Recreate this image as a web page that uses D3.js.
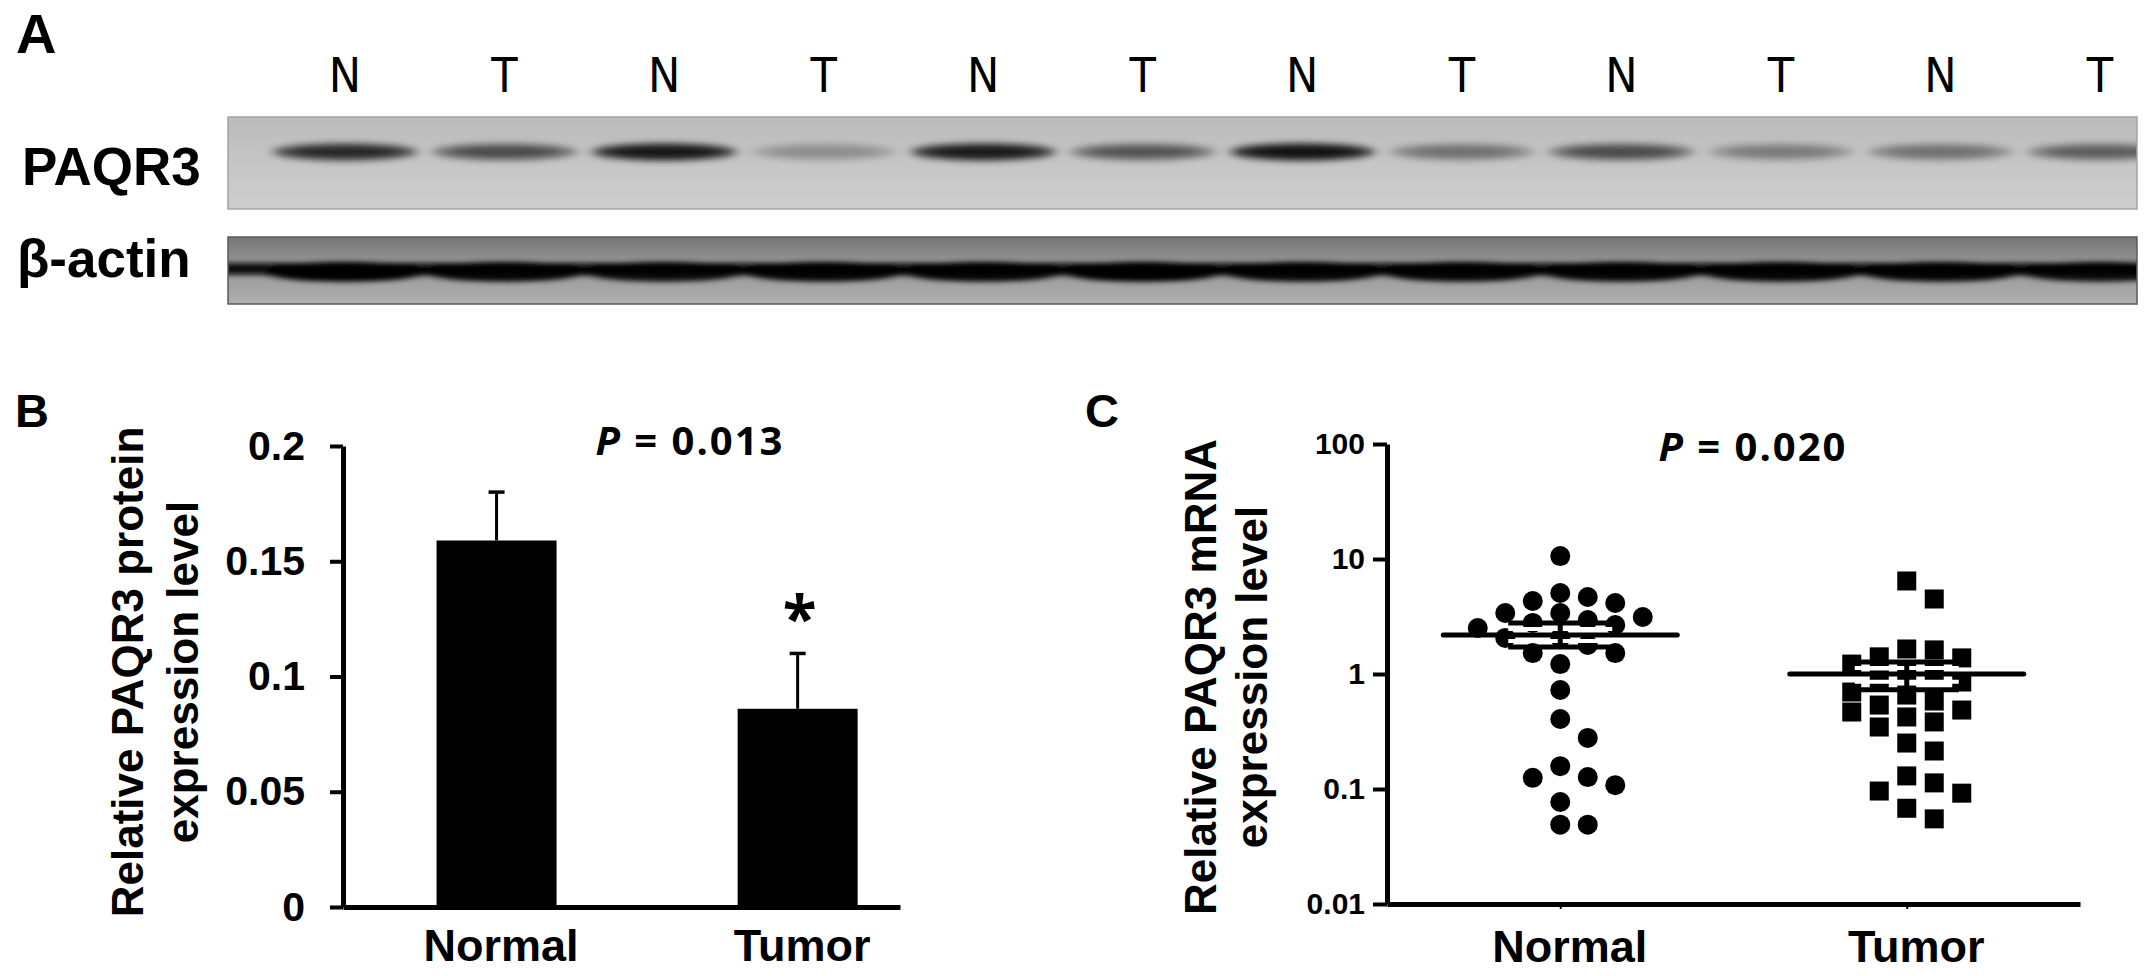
<!DOCTYPE html>
<html><head><meta charset="utf-8">
<script src="https://cdn.jsdelivr.net/npm/d3@7"></script>
<style>
html,body{margin:0;padding:0;background:#fff;}
svg{display:block;}
</style></head><body>
<svg id="fig" width="2150" height="976"></svg>
<script>
// ---------------- DATA ----------------
// Panel A: western blot (12 lanes)
const laneLabels = ["N","T","N","T","N","T","N","T","N","T","N","T"];
const paqr3Intensity = [0.8,0.55,0.95,0.22,0.92,0.5,1.0,0.35,0.55,0.3,0.35,0.45];
const actinIntensity = [1.0,0.95,0.9,0.95,0.95,1.0,0.95,0.95,0.95,0.95,0.95,0.9];
const blotRows = ["PAQR3","β-actin"];
// Panel B: protein bar chart
const groups = ["Normal","Tumor"];
const proteinMean = [0.159,0.086];
const proteinSE = [0.021,0.024];
const proteinTicks = [0,0.05,0.1,0.15,0.2];
const proteinTickLabels = ["0","0.05","0.1","0.15","0.2"];
const pValueB = "0.013";
// Panel C: mRNA scatter (log scale)
const mrnaNormal = [10.6,5.06,4.67,4.31,4.14,3.39,3.39,3.13,2.95,2.78,2.67,2.51,2.06,2.06,1.79,1.52,1.52,1.22,0.726,0.406,0.278,0.158,0.127,0.125,0.108,0.077,0.049,0.049];
const mrnaTumor = [6.44,4.49,1.65,1.62,1.41,1.38,1.22,1.04,1.02,0.887,0.852,0.697,0.656,0.582,0.537,0.486,0.467,0.423,0.383,0.346,0.251,0.214,0.130,0.113,0.096,0.092,0.068,0.055];
const mrnaMean = [2.18,1.0];
const mrnaSemUpper = [2.78,1.27];
const mrnaSemLower = [1.72,0.73];
const mrnaTicks = [0.01,0.1,1,10,100];
const mrnaTickLabels = ["0.01","0.1","1","10","100"];
const pValueC = "0.020";

// ---------------- SETUP ----------------
const svg = d3.select("#fig");
const SANS = "'Liberation Sans', Arial, sans-serif";
const NARROW = "'Liberation Sans Narrow', 'DejaVu Sans Condensed', 'Liberation Sans', sans-serif";
const PFONT = "'Open Sans', 'Liberation Sans', sans-serif";
const defs = svg.append("defs");
defs.append("filter").attr("id","blurBand").attr("x","-30%").attr("y","-100%").attr("width","160%").attr("height","300%")
  .append("feGaussianBlur").attr("stdDeviation","6 3");
defs.append("filter").attr("id","blurActin").attr("x","-30%").attr("y","-100%").attr("width","160%").attr("height","300%")
  .append("feGaussianBlur").attr("stdDeviation","7 2.5");
const g1 = defs.append("linearGradient").attr("id","memGrad").attr("x1",0).attr("y1",0).attr("x2",0).attr("y2",1);
g1.append("stop").attr("offset","0").attr("stop-color","#bababa");
g1.append("stop").attr("offset","0.45").attr("stop-color","#c5c5c5");
g1.append("stop").attr("offset","1").attr("stop-color","#cecece");
const g2 = defs.append("linearGradient").attr("id","actGrad").attr("x1",0).attr("y1",0).attr("x2",0).attr("y2",1);
g2.append("stop").attr("offset","0").attr("stop-color","#767676");
g2.append("stop").attr("offset","0.3").attr("stop-color","#8e8e8e");
g2.append("stop").attr("offset","0.7").attr("stop-color","#a2a2a2");
g2.append("stop").attr("offset","1").attr("stop-color","#b0b0b0");

// blot layout (pixels)
const blot = { x0: 228, x1: 2137 };
const rowBox = { "PAQR3": [117, 209], "β-actin": [237, 304] };
blotRows.forEach((r,i)=>{
  defs.append("clipPath").attr("id","clip"+i).append("rect")
    .attr("x",blot.x0).attr("y",rowBox[r][0]).attr("width",blot.x1-blot.x0).attr("height",rowBox[r][1]-rowBox[r][0]);
});

function panelLetter(t, x, y, size){
  svg.append("text").attr("x",x).attr("y",y).attr("font-family",SANS).attr("font-weight","bold")
    .attr("font-size",size).text(t);
}

// ---------------- PANEL A ----------------
panelLetter("A", 16, 53, 56);
const xLane = d3.scalePoint().domain(d3.range(laneLabels.length)).range([345, 2100]);
svg.append("g").selectAll("text").data(laneLabels).join("text")
  .attr("x",(d,i)=>xLane(i)).attr("y",92).attr("text-anchor","middle")
  .attr("font-family",NARROW).attr("font-size",48).text(d=>d);

// PAQR3 membrane
const [pT, pB0] = rowBox["PAQR3"];
svg.append("rect").attr("x",blot.x0).attr("y",pT).attr("width",blot.x1-blot.x0).attr("height",pB0-pT)
  .attr("fill","url(#memGrad)");
const opP = d3.scaleLinear().domain([0,1]).range([0,0.95]);
const gP = svg.append("g").attr("clip-path","url(#clip0)").append("g").attr("filter","url(#blurBand)");
const bandY = pT + (pB0-pT)*0.38;
gP.selectAll("ellipse.wide").data(paqr3Intensity).join("ellipse")
  .attr("cx",(d,i)=>xLane(i)).attr("cy",bandY).attr("rx",72).attr("ry",9)
  .attr("fill","#000").attr("opacity",d=>opP(d)*0.8);
gP.selectAll("ellipse.core").data(paqr3Intensity).join("ellipse")
  .attr("cx",(d,i)=>xLane(i)).attr("cy",bandY).attr("rx",55).attr("ry",5)
  .attr("fill","#000").attr("opacity",d=>opP(d)*0.7);
svg.append("rect").attr("x",blot.x0).attr("y",pT).attr("width",blot.x1-blot.x0).attr("height",pB0-pT)
  .attr("fill","none").attr("stroke","#a4a4a4").attr("stroke-width",1.5);

// beta-actin membrane
const [aT, aB] = rowBox["β-actin"];
svg.append("rect").attr("x",blot.x0).attr("y",aT).attr("width",blot.x1-blot.x0).attr("height",aB-aT)
  .attr("fill","url(#actGrad)");
const gA = svg.append("g").attr("clip-path","url(#clip1)").append("g").attr("filter","url(#blurActin)");
gA.append("rect").attr("x",blot.x0-20).attr("y",aT+(aB-aT)*0.39).attr("width",blot.x1-blot.x0+40).attr("height",(aB-aT)*0.17)
  .attr("fill","#080808");
gA.selectAll("ellipse").data(actinIntensity).join("ellipse")
  .attr("cx",(d,i)=>xLane(i)).attr("cy",aT+(aB-aT)*0.52).attr("rx",80).attr("ry",10)
  .attr("fill","#000").attr("opacity",d=>d);
svg.append("rect").attr("x",blot.x0).attr("y",aT).attr("width",blot.x1-blot.x0).attr("height",aB-aT)
  .attr("fill","none").attr("stroke","#5a5a5a").attr("stroke-width",1.5);

svg.append("text").attr("x",22).attr("y",185).attr("font-family",SANS).attr("font-weight","bold")
  .attr("font-size",53).text(blotRows[0]);
svg.append("text").attr("x",17).attr("y",277).attr("font-family",SANS).attr("font-weight","bold")
  .attr("font-size",53).text(blotRows[1]);

// ---------------- PANEL B ----------------
panelLetter("B", 15, 427, 47);
const yB = d3.scaleLinear().domain([0,0.2]).range([907,446]);
const xB = d3.scalePoint().domain(groups).range([343,900]).padding(0.425).align(0.6);
const barW = 120;
const gB = svg.append("g");
gB.selectAll("rect.bar").data(groups).join("rect").attr("class","bar")
  .attr("x",d=>xB(d)-barW/2).attr("width",barW)
  .attr("y",(d,i)=>yB(proteinMean[i])).attr("height",(d,i)=>yB(0)-yB(proteinMean[i]))
  .attr("fill","#000");
gB.selectAll("line.eb").data(groups).join("line")
  .attr("x1",d=>xB(d)).attr("x2",d=>xB(d))
  .attr("y1",(d,i)=>yB(proteinMean[i])).attr("y2",(d,i)=>yB(proteinMean[i]+proteinSE[i]))
  .attr("stroke","#000").attr("stroke-width",3);
gB.selectAll("line.cap").data(groups).join("line")
  .attr("x1",d=>xB(d)-8).attr("x2",d=>xB(d)+8)
  .attr("y1",(d,i)=>yB(proteinMean[i]+proteinSE[i])).attr("y2",(d,i)=>yB(proteinMean[i]+proteinSE[i]))
  .attr("stroke","#000").attr("stroke-width",3.5);
const axB = svg.append("g").attr("transform",`translate(343,0)`)
  .call(d3.axisLeft(yB).tickValues(proteinTicks).tickFormat((d,i)=>proteinTickLabels[i]).tickSize(13).tickSizeOuter(0).tickPadding(25));
axB.select(".domain").attr("stroke-width",5);
axB.selectAll(".tick line").attr("stroke-width",4);
axB.selectAll(".tick text").attr("font-family",SANS).attr("font-weight","bold").attr("font-size",41).attr("fill","#000");
const axBx = svg.append("g").attr("transform",`translate(0,907)`)
  .call(d3.axisBottom(xB).tickSize(0).tickSizeOuter(0));
axBx.select(".domain").attr("stroke-width",5);
axBx.selectAll(".tick text").attr("font-family",SANS).attr("font-weight","bold").attr("font-size",45)
  .attr("fill","#000").attr("dy",null).attr("y",54).attr("dx",4);
const tB = svg.append("g").attr("transform","translate(143,672) rotate(-90)")
  .attr("font-family",SANS).attr("font-weight","bold").attr("font-size",44).attr("text-anchor","middle");
tB.append("text").attr("y",0).text("Relative PAQR3 protein");
tB.append("text").attr("y",55).text("expression level");
const pB = svg.append("text").attr("x",690).attr("y",455).attr("text-anchor","middle")
  .attr("font-family",PFONT).attr("font-weight","bold").attr("font-size",40).attr("letter-spacing",2);
pB.append("tspan").attr("font-style","italic").text("P");
pB.append("tspan").text(" = " + pValueB);
svg.append("text").attr("x",xB("Tumor")+2).attr("y",yB(proteinMean[1]+proteinSE[1]))
  .attr("text-anchor","middle").attr("font-family",PFONT).attr("font-weight","bold")
  .attr("font-size",62).attr("transform","translate(0,-12)").text("*");

// ---------------- PANEL C ----------------
panelLetter("C", 1085, 427, 47);
const yC = d3.scaleLog().domain([0.01,100]).range([904,444]);
const xC = d3.scalePoint().domain(groups).range([1387,2080]).padding(0.5);
const slotW = 27.5, markD = 19;
function swarm(values){
  const order = values.map((v,i)=>i).sort((a,b)=>values[b]-values[a]);
  const placed = [], slots = new Array(values.length);
  const cand = [0,1,-1,2,-2,3,-3,4,-4,5,-5];
  order.forEach(i=>{
    const py = yC(values[i]);
    for(const s of cand){
      if(!placed.some(p=>p.s===s && Math.abs(p.py-py)<markD+1)){ slots[i]=s; placed.push({s,py}); break; }
    }
  });
  return slots;
}
const slotN = swarm(mrnaNormal), slotT = swarm(mrnaTumor);
const gC = svg.append("g");
gC.selectAll("circle").data(mrnaNormal).join("circle")
  .attr("cx",(d,i)=>xC("Normal")+slotN[i]*slotW).attr("cy",d=>yC(d)).attr("r",markD/2+0.5).attr("fill","#000");
gC.selectAll("rect.sq").data(mrnaTumor).join("rect").attr("class","sq")
  .attr("x",(d,i)=>xC("Tumor")+slotT[i]*slotW-markD/2).attr("y",d=>yC(d)-markD/2)
  .attr("width",markD).attr("height",markD).attr("fill","#000");
const capHW = 52, meanHW = 117;
groups.forEach((g,i)=>{
  const cx = xC(g);
  const yu = yC(mrnaSemUpper[i]), yl = yC(mrnaSemLower[i]), ym = yC(mrnaMean[i]);
  [ (yu+ym)/2, (yl+ym)/2 ].forEach(yy=>{
    gC.append("line").attr("x1",cx-capHW).attr("x2",cx+capHW).attr("y1",yy).attr("y2",yy)
      .attr("stroke","#fff").attr("stroke-width",4);
  });
  gC.append("line").attr("x1",cx).attr("x2",cx).attr("y1",yu).attr("y2",yl).attr("stroke","#000").attr("stroke-width",5);
  [yu,yl].forEach(yy=>{
    gC.append("line").attr("x1",cx-capHW).attr("x2",cx+capHW).attr("y1",yy).attr("y2",yy)
      .attr("stroke","#000").attr("stroke-width",5);
  });
  gC.append("line").attr("x1",cx-meanHW).attr("x2",cx+meanHW).attr("y1",ym).attr("y2",ym)
    .attr("stroke","#000").attr("stroke-width",5).attr("stroke-linecap","round");
});
const axC = svg.append("g").attr("transform","translate(1387,0)")
  .call(d3.axisLeft(yC).tickValues(mrnaTicks).tickFormat((d,i)=>mrnaTickLabels[i]).tickSize(14).tickSizeOuter(0).tickPadding(8));
axC.select(".domain").attr("stroke-width",5);
axC.selectAll(".tick line").attr("stroke-width",4);
axC.selectAll(".tick text").attr("font-family",SANS).attr("font-weight","bold").attr("font-size",30).attr("fill","#000");
const axCx = svg.append("g").attr("transform","translate(0,904)")
  .call(d3.axisBottom(xC).tickSize(5).tickSizeOuter(0));
axCx.select(".domain").attr("stroke-width",5);
axCx.selectAll(".tick line").attr("stroke-width",2);
axCx.selectAll(".tick text").attr("font-family",SANS).attr("font-weight","bold").attr("font-size",45)
  .attr("fill","#000").attr("dy",null).attr("y",58).attr("dx",9);
const tC = svg.append("g").attr("transform","translate(1216,677) rotate(-90)")
  .attr("font-family",SANS).attr("font-weight","bold").attr("font-size",44).attr("text-anchor","middle");
tC.append("text").attr("y",0).text("Relative PAQR3 mRNA");
tC.append("text").attr("y",51).text("expression level");
const pC = svg.append("text").attr("x",1753).attr("y",461).attr("text-anchor","middle")
  .attr("font-family",PFONT).attr("font-weight","bold").attr("font-size",40).attr("letter-spacing",2);
pC.append("tspan").attr("font-style","italic").text("P");
pC.append("tspan").text(" = " + pValueC);
</script>
</body></html>
